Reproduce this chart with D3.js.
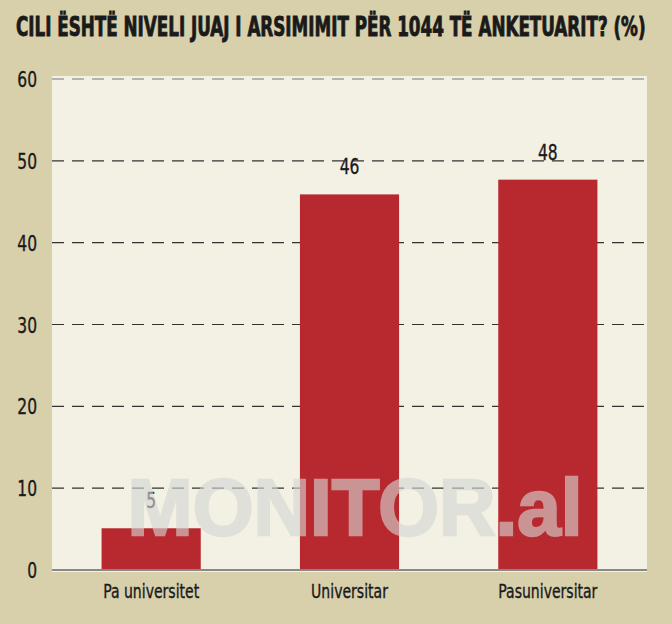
<!DOCTYPE html>
<html>
<head>
<meta charset="utf-8">
<script src="https://cdn.jsdelivr.net/npm/d3@7/dist/d3.min.js"></script>
<style>
body { margin:0; background:#d8cfab; }
svg text { font-family:"DejaVu Sans Condensed","Liberation Sans",sans-serif; }
</style>
</head>
<body>
<div id="chart"></div>
<script>
var categories = ["Pa universitet", "Universitar", "Pasuniversitar"],
	values = [5.1, 45.9, 47.7],
	labels = ["5", "46", "48"],
	ticks = [0, 10, 20, 30, 40, 50, 60];

var width = 672,
	height = 624,
	margin = {top:76, right:25, bottom:54, left:52},
	squeeze = 0.82;

var x = d3.scaleBand().domain(categories).range([margin.left, width-margin.right])
	.paddingInner(0.5).paddingOuter(0.25);
var y = d3.scaleLinear().domain([0,60]).range([570, 79]);

var svg = d3.select("#chart").append("svg")
	.attr("width", width)
	.attr("height", height)

svg.append("rect").attr("width",width).attr("height",height).attr("fill","#d8cfab");

// narrow text: draw at 0,0 then squeeze horizontally
function narrow(sel, px, py, k){
	sel.attr("x",0).attr("y",0)
		.attr("transform", function(d,i){
			var a = typeof px == "function" ? px(d,i) : px,
				b = typeof py == "function" ? py(d,i) : py;
			return "translate("+a+","+b+") scale("+k+",1)";
		});
}

var title = svg.append("text")
	.style("font-size","27px").style("font-weight","bold")
	.attr("fill","#1a1a1a").attr("stroke","#1a1a1a").attr("stroke-width",0.9)
	.text("CILI ËSHTË NIVELI JUAJ I ARSIMIMIT PËR 1044 TË ANKETUARIT? (%)");
var tw = title.node().getComputedTextLength();
narrow(title, 16, 36, 630/tw);

// plot background
svg.append("rect")
	.attr("x", margin.left).attr("y", margin.top)
	.attr("width", width-margin.right-margin.left).attr("height", 572-margin.top)
	.attr("fill","#f3f1e4");

// grid
svg.selectAll(".grid").data(ticks.filter(function(d){return d>0})).enter().append("line")
	.attr("x1", margin.left).attr("x2", width-margin.right)
	.attr("y1", function(d){return y(d)}).attr("y2", function(d){return y(d)})
	.attr("stroke", function(d){return d==60 ? "#777" : "#333"})
	.attr("stroke-width", 1.2)
	.attr("stroke-dasharray","12,8");

narrow(svg.selectAll(".tick").data(ticks).enter().append("text")
	.attr("text-anchor","end")
	.style("font-size","21px").attr("fill","#1a1a1a")
	.attr("stroke","#1a1a1a").attr("stroke-width",0.35)
	.text(function(d){return d}), 37, function(d){return y(d)+8}, squeeze);

// bars
svg.selectAll(".bar").data(values).enter().append("rect")
	.attr("x", function(d,i){return x(categories[i])})
	.attr("width", x.bandwidth())
	.attr("y", function(d){return y(d)})
	.attr("height", function(d){return y(0)-y(d)})
	.attr("fill","#b8282f");

narrow(svg.selectAll(".val").data(values).enter().append("text")
	.attr("text-anchor","middle")
	.style("font-size","21px").attr("fill","#1a1a1a")
	.attr("stroke","#1a1a1a").attr("stroke-width",0.35)
	.text(function(d,i){return labels[i]}),
	function(d,i){return x(categories[i])+x.bandwidth()/2}, function(d){return y(d)-20}, squeeze);

// baseline
svg.append("line")
	.attr("x1", margin.left).attr("x2", width-margin.right)
	.attr("y1", y(0)).attr("y2", y(0))
	.attr("stroke","#888").attr("stroke-width",2);

narrow(svg.selectAll(".cat").data(categories).enter().append("text")
	.attr("text-anchor","middle")
	.style("font-size","20px").attr("fill","#1a1a1a")
	.attr("stroke","#1a1a1a").attr("stroke-width",0.35)
	.text(function(d){return d}),
	function(d){return x(d)+x.bandwidth()/2}, 598, 0.78);

// watermark
var wm = svg.append("g").attr("opacity",0.62).append("text")
	.attr("text-anchor","middle")
	.style("font-family","'Liberation Sans',Arial,sans-serif")
	.style("font-size","79px").style("font-weight","bold")
	.attr("fill","rgb(214,214,212)")
	.attr("stroke","rgb(214,214,212)").attr("stroke-width",2.5)
	.text("MONITOR.al");
var ww = wm.node().getComputedTextLength();
narrow(wm, 355, 535, 455/ww);
</script>
</body>
</html>
